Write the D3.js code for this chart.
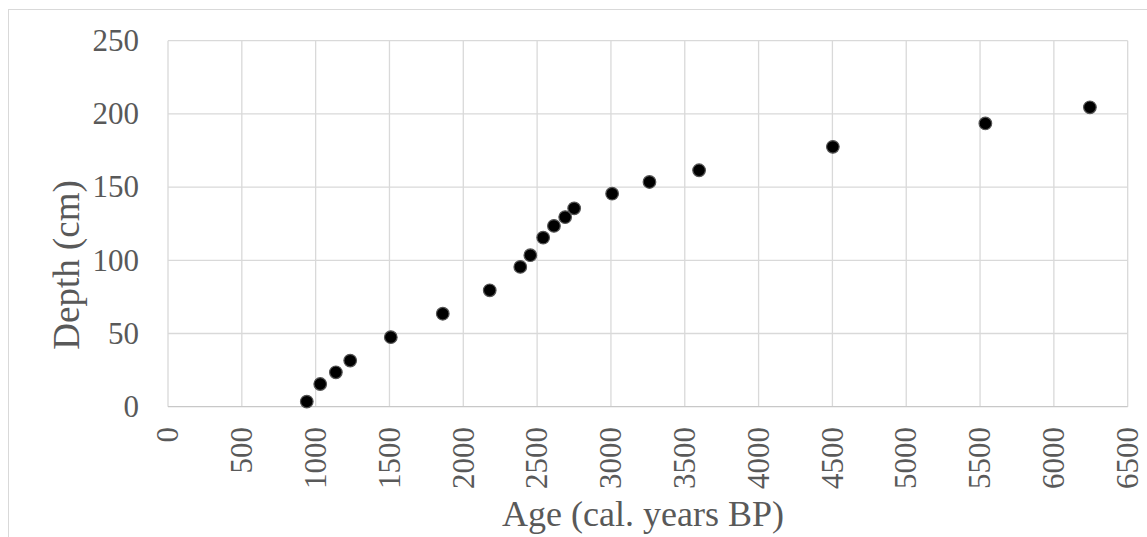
<!DOCTYPE html>
<html>
<head>
<meta charset="utf-8">
<script src="https://cdn.jsdelivr.net/npm/d3@7"></script>
<style>
    html, body { margin: 0; padding: 0; background: #ffffff; }
    svg { display: block; }
</style>
</head>
<body>
<svg id="chart" width="1147" height="537"></svg>
<script>
// radiocarbon age-depth points
const ages = [940, 1031, 1137, 1234, 1509, 1861, 2179, 2386, 2454, 2541, 2614, 2690, 2751, 3008, 3261, 3597, 4503, 5536, 6244];
const depths = [3.5, 15.5, 23.5, 31.5, 47.5, 63.5, 79.5, 95.5, 103.5, 115.5, 123.5, 129.5, 135.5, 145.5, 153.5, 161.5, 177.5, 193.5, 204.5];

const xTicks = [0, 500, 1000, 1500, 2000, 2500, 3000, 3500, 4000, 4500, 5000, 5500, 6000, 6500];
const yTicks = [0, 50, 100, 150, 200, 250];

const xTitle = 'Age (cal. years BP)';
const yTitle = 'Depth (cm)';

const font = "'Liberation Serif', 'Times New Roman', Times, 'DejaVu Serif', serif";
const textColor = '#595959';

const svg = d3.select('#chart');

const plot = { left: 168, right: 1127.7, top: 40.7, bottom: 406.7 };

const x = d3.scaleLinear()
    .domain([0, 6500])
    .range([plot.left, plot.right]);

const y = d3.scaleLinear()
    .domain([0, 250])
    .range([plot.bottom, plot.top]);

// chart area border (cropped at right/bottom)
svg.append('rect')
    .attr('x', 8.5)
    .attr('y', 9.5)
    .attr('width', 1200)
    .attr('height', 600)
    .attr('fill', 'none')
    .attr('stroke', '#d9d9d9')
    .attr('stroke-width', 1);

const grid = svg.append('g').attr('class', 'grid');

grid.selectAll('line.v')
    .data(xTicks)
    .enter()
    .append('line')
    .attr('class', 'v')
    .attr('x1', d => x(d))
    .attr('x2', d => x(d))
    .attr('y1', plot.top)
    .attr('y2', plot.bottom)
    .attr('stroke', '#d9d9d9')
    .attr('stroke-width', 1.3);

grid.selectAll('line.h')
    .data(yTicks)
    .enter()
    .append('line')
    .attr('class', 'h')
    .attr('x1', plot.left)
    .attr('x2', plot.right)
    .attr('y1', d => y(d))
    .attr('y2', d => y(d))
    .attr('stroke', d => d === 0 ? '#c8c8c8' : '#d9d9d9')
    .attr('stroke-width', 1.3);

// y tick labels
svg.append('g')
    .selectAll('text')
    .data(yTicks)
    .enter()
    .append('text')
    .attr('x', 139)
    .attr('y', d => y(d))
    .attr('dy', '0.33em')
    .attr('text-anchor', 'end')
    .attr('font-family', font)
    .attr('font-size', 31)
    .attr('fill', textColor)
    .text(d => d);

// x tick labels, rotated
svg.append('g')
    .selectAll('text')
    .data(xTicks)
    .enter()
    .append('text')
    .attr('transform', d => `translate(${x(d)},427) rotate(-90)`)
    .attr('dy', '0.33em')
    .attr('text-anchor', 'end')
    .attr('font-family', font)
    .attr('font-size', 31)
    .attr('fill', textColor)
    .text(d => d);

// axis titles
svg.append('text')
    .attr('x', 643)
    .attr('y', 526)
    .attr('text-anchor', 'middle')
    .attr('font-family', font)
    .attr('font-size', 36)
    .attr('fill', textColor)
    .text(xTitle);

svg.append('text')
    .attr('transform', 'translate(67,265) rotate(-90)')
    .attr('dy', '0.33em')
    .attr('text-anchor', 'middle')
    .attr('font-family', font)
    .attr('font-size', 37)
    .attr('fill', textColor)
    .text(yTitle);

// points
const points = ages.map((a, i) => ({ age: a, depth: depths[i] }));

svg.append('g')
    .selectAll('circle')
    .data(points)
    .enter()
    .append('circle')
    .attr('cx', d => x(d.age))
    .attr('cy', d => y(d.depth))
    .attr('r', 6.3)
    .attr('fill', '#000000')
    .attr('stroke', '#555555')
    .attr('stroke-width', 1.2);
</script>
</body>
</html>
